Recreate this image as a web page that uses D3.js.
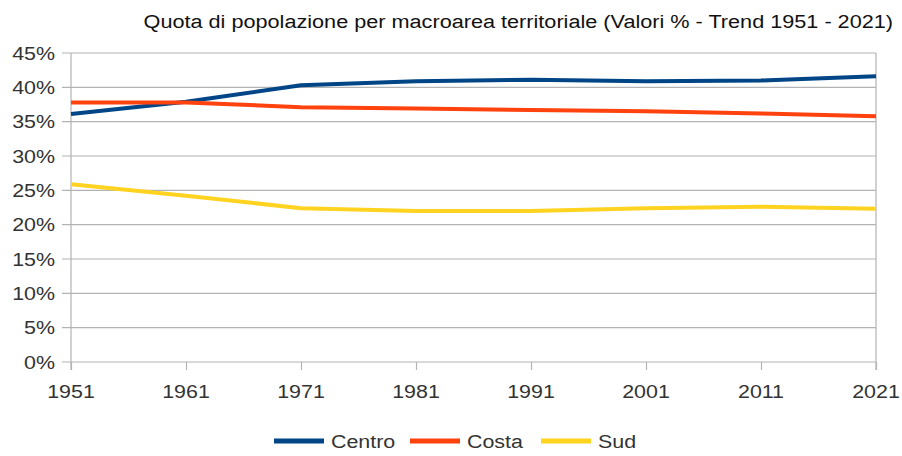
<!DOCTYPE html>
<html>
<head>
<meta charset="utf-8">
<script src="https://cdn.jsdelivr.net/npm/d3@7"></script>
<style>
  body { margin: 0; background: #fff; }
  text { font-family: "Liberation Sans", Arial, sans-serif; }
</style>
</head>
<body>
<svg id="chart" width="902" height="456"></svg>
<script>
// census years and shares (%) per area
var years = [1951, 1961, 1971, 1981, 1991, 2001, 2011, 2021];
var centro = [36.1, 37.9, 40.3, 40.9, 41.1, 40.9, 41.0, 41.6];
var costa = [37.8, 37.8, 37.1, 36.9, 36.7, 36.5, 36.2, 35.8];
var sud = [25.9, 24.2, 22.4, 22.0, 22.0, 22.4, 22.6, 22.3];
var yTicks = [0, 5, 10, 15, 20, 25, 30, 35, 40, 45];

var seriesNames = ["Centro", "Costa", "Sud"];
var seriesValues = [centro, costa, sud];
var seriesColours = ["#004586", "#ff420e", "#ffd320"];

var svg = d3.select("#chart");
var margin = { left: 71, right: 26, top: 53, bottom: 94 };
var W = 902, H = 456;
var stretch = 1.19;   // the original picture is a bit wider than tall

var x = d3.scaleLinear()
    .domain([1951, 2021])
    .range([margin.left, W - margin.right]);
var y = d3.scaleLinear()
    .domain([0, 45])
    .range([H - margin.bottom, margin.top]);

// text drawn with horizontal stretch around its anchor point
function label(parent, px, py, str, anchor, size, fill) {
    return parent.append("text")
        .attr("transform", "translate(" + px + "," + py + ") scale(" + stretch + ",1)")
        .attr("text-anchor", anchor)
        .attr("font-size", size)
        .attr("fill", fill)
        .text(str);
}

// title
label(svg, 893, 28, "Quota di popolazione per macroarea territoriale (Valori % - Trend 1951 - 2021)",
    "end", 18.2, "#111");

// horizontal grid
svg.append("g").selectAll("line")
    .data(yTicks)
    .enter().append("line")
    .attr("x1", x(1951) - 9).attr("x2", x(2021))
    .attr("y1", function(d) { return y(d); })
    .attr("y2", function(d) { return y(d); })
    .attr("stroke", "#b3b3b3").attr("stroke-width", 1.2);

// vertical borders
[1951, 2021].forEach(function(yr) {
    svg.append("line")
        .attr("x1", x(yr)).attr("x2", x(yr))
        .attr("y1", y(45)).attr("y2", y(0) + 8)
        .attr("stroke", "#b3b3b3").attr("stroke-width", 1.2);
});

// y axis labels
var gy = svg.append("g");
yTicks.forEach(function(d) {
    label(gy, 55, y(d) + 6.5, d + "%", "end", 18, "#333");
});

// x axis ticks (scale's own axis for tick marks)
var xAxis = d3.axisBottom(x)
    .tickValues(years)
    .tickFormat("")
    .tickSize(8);
var gx = svg.append("g")
    .attr("transform", "translate(0," + y(0) + ")")
    .call(xAxis);
gx.select(".domain").remove();
gx.selectAll("line").attr("stroke", "#b3b3b3").attr("stroke-width", 1.2);
years.forEach(function(yr) {
    label(svg, x(yr), 398, d3.format("d")(yr), "middle", 18, "#333");
});

// lines
var line = d3.line()
    .x(function(d, i) { return x(years[i]); })
    .y(function(d) { return y(d); });

seriesValues.forEach(function(vals, i) {
    svg.append("path")
        .datum(vals)
        .attr("d", line)
        .attr("fill", "none")
        .attr("stroke", seriesColours[i])
        .attr("stroke-width", 4)
        .attr("stroke-linejoin", "round");
});

// legend
var legendX = [274, 410, 541];
var legend = svg.append("g");
seriesNames.forEach(function(name, i) {
    var g = legend.append("g").attr("transform", "translate(" + legendX[i] + ",441)");
    g.append("line")
        .attr("x1", 0).attr("x2", 50)
        .attr("stroke", seriesColours[i]).attr("stroke-width", 5);
    label(g, 57, 7, name, "start", 18, "#333");
});
</script>
</body>
</html>
